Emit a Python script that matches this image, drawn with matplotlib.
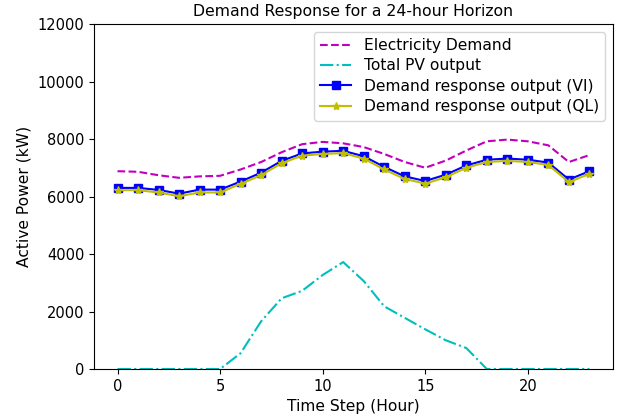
import numpy as np
import matplotlib
matplotlib.use('Agg')
import matplotlib.pyplot as plt

# --- Données ---
heures = list(range(24))
demande = [6880, 6860, 6740, 6650, 6700, 6720, 6940, 7200, 7540, 7820,
           7900, 7850, 7720, 7480, 7200, 7000, 7250, 7600, 7920, 7980,
           7920, 7780, 7200, 7440]
pv_total = [0, 0, 0, 0, 0, 0, 550, 1660, 2460, 2720,
            3270, 3720, 3060, 2180, 1780, 1380, 1000, 730, 0, 0,
            0, 0, 0, 0]
dr_vi = [6300, 6300, 6230, 6100, 6240, 6240, 6520, 6830, 7240, 7500,
         7560, 7590, 7400, 7030, 6700, 6540, 6760, 7080, 7280, 7320,
         7280, 7180, 6590, 6880]
dr_ql = [6220, 6220, 6140, 6010, 6140, 6140, 6440, 6740, 7160, 7420,
         7480, 7510, 7320, 6940, 6610, 6450, 6670, 7000, 7200, 7240,
         7200, 7100, 6500, 6790]

fig = plt.figure(figsize=(6.22, 4.19), dpi=100)
ax = fig.add_axes([0.151, 0.1193, 0.8345, 0.8234])

ax.plot(heures, demande, 'm--', label='Electricity Demand')
ax.plot(heures, pv_total, 'c-.', label='Total PV output')
ax.plot(heures, dr_vi, 'b-s', label='Demand response output (VI)')
ax.plot(heures, dr_ql, 'y-*', label='Demand response output (QL)')

ax.set_ylim(0, 12000)
ax.set_yticks(np.arange(0, 12001, 2000))
ax.set_xticks([0, 5, 10, 15, 20])
ax.tick_params(labelsize=10.5)
ax.set_xlabel('Time Step (Hour)', fontsize=11.2)
ax.set_ylabel('Active Power (kW)', fontsize=11.2)
ax.set_title('Demand Response for a 24-hour Horizon', fontsize=11.3)
ax.legend(loc='upper right', fontsize=11.2, labelspacing=0.35)

plt.savefig('out.png', dpi=100)
